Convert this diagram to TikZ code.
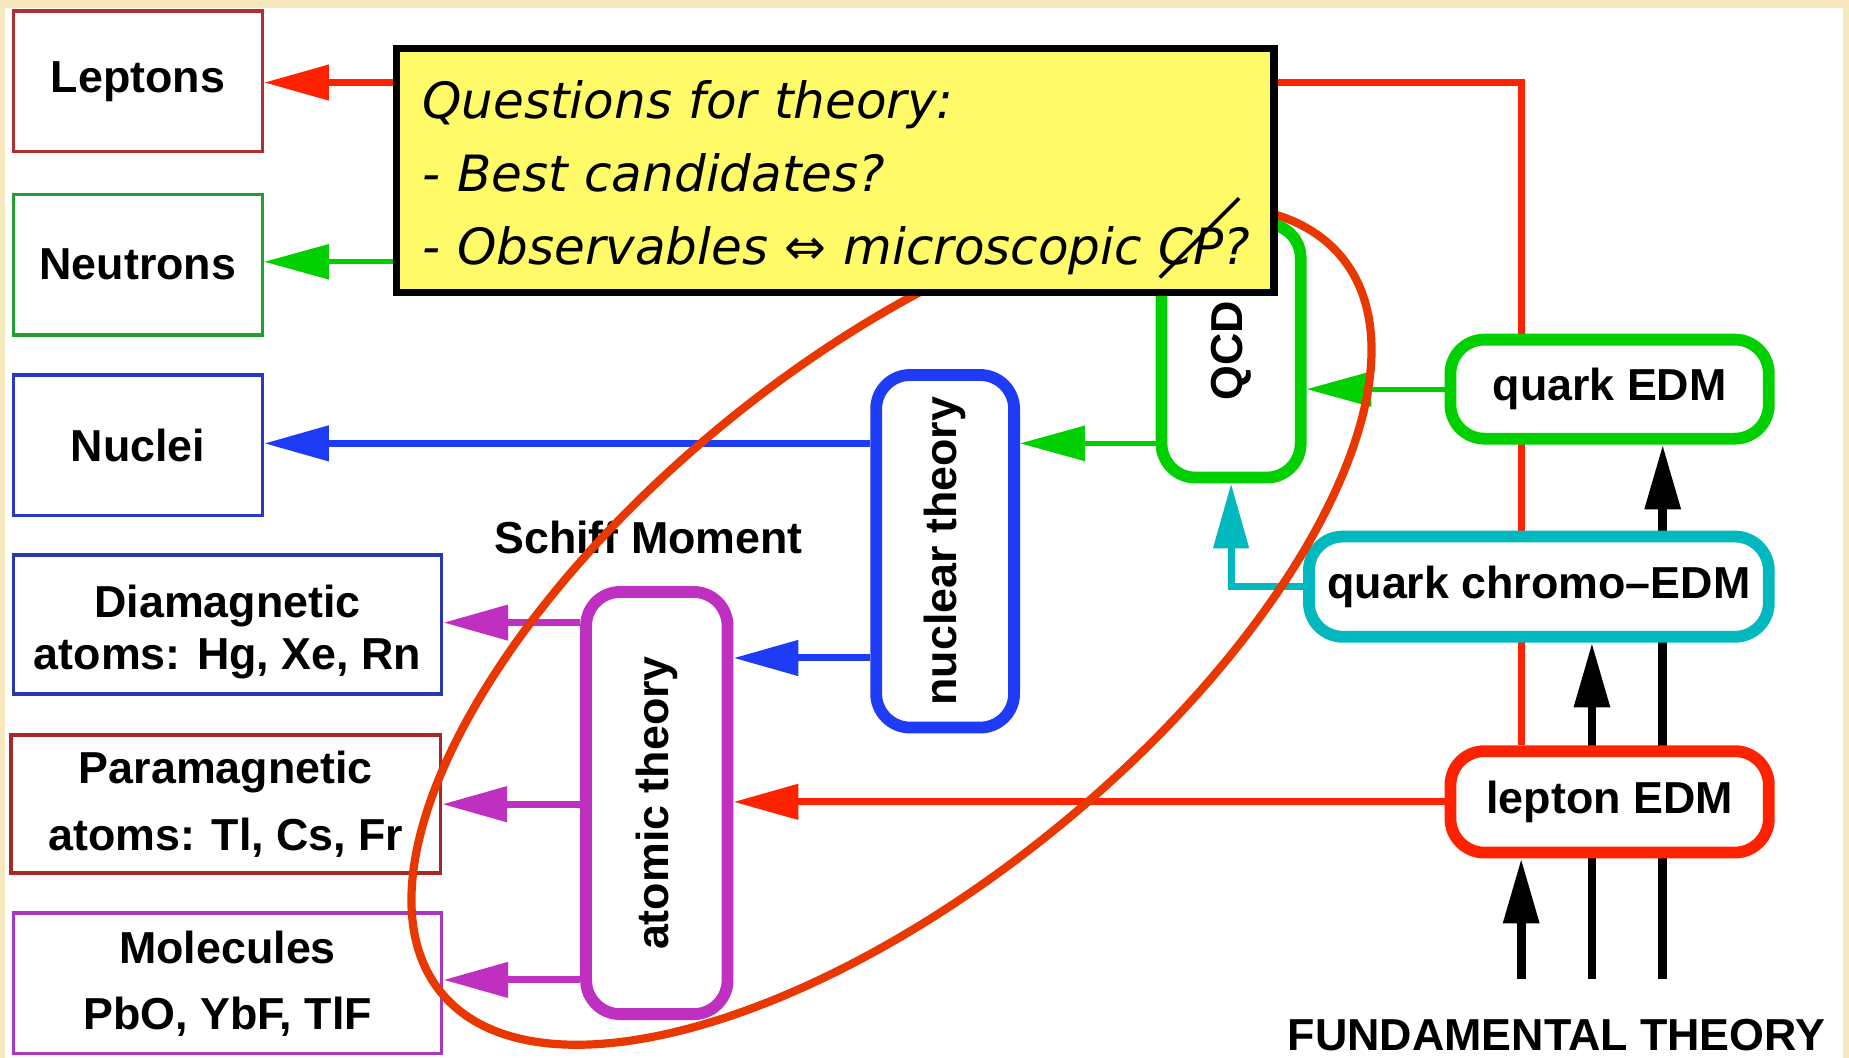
\documentclass[tikz,border=0pt]{standalone}
\usepackage{fontspec}
\setmainfont{Liberation Sans}
\newfontfamily\handfont{DejaVu Sans}
\usepackage{graphicx}
\usetikzlibrary{arrows.meta,backgrounds}
\newdimen\dpx \dpx=0.5896pt
\newcommand\labfont{\fontsize{22.4pt}{26pt}\selectfont\bfseries}
\newcommand\notefont{\handfont\itshape\fontsize{25pt}{36.6pt}\selectfont}
\definecolor{lepred}{HTML}{B03030}
\definecolor{neugreen}{HTML}{20A030}
\definecolor{nucblue}{HTML}{2838C8}
\definecolor{diablue}{HTML}{2838B0}
\definecolor{parared}{HTML}{A82828}
\definecolor{molpurple}{HTML}{A838C0}
\definecolor{linered}{HTML}{FF2200}
\definecolor{linegreen}{HTML}{00D000}
\definecolor{lineblue}{HTML}{1E3CF5}
\definecolor{linecyan}{HTML}{00B8BE}
\definecolor{linepurple}{HTML}{C030C0}
\definecolor{ellred}{HTML}{E83800}
\definecolor{noteyellow}{HTML}{FFFA68}
\definecolor{beigeband}{HTML}{F6E8BC}
\begin{document}
\begin{tikzpicture}[x=0.5896pt, y=0.5896pt,
  obsbox/.style={draw, line width=1.8pt, fill=white, inner sep=0pt, align=center, font=\labfont, minimum width=211*\dpx, minimum height=119*\dpx},
  rbox/.style={draw, line width=5.9pt, rounded corners=17pt, fill=white, inner sep=0pt, align=center, font=\labfont},
  tip/.style={-{Triangle[length=32.4pt,width=17.1pt]}},
  conn/.style={tip, line width=3.5pt},
  thinconn/.style={tip, line width=2.5pt},
  blackconn/.style={tip, line width=4.4pt, draw=black},
  lbl/.style={font=\labfont, inner sep=0pt},
  notebox/.style={draw=black, line width=3.8pt, fill=noteyellow, inner sep=0pt, minimum width=744*\dpx, minimum height=207*\dpx, text width=700*\dpx, align=left, font=\notefont},
  ellstyle/.style={draw=ellred, line width=4.1pt}
]
\useasboundingbox (0,0) rectangle (1568,-897);
% observable boxes
\node[obsbox, draw=lepred] (leptons) at (117,-69) {Leptons};
\node[obsbox, draw=neugreen] (neutrons) at (117,-224.5) {Neutrons};
\node[obsbox, draw=nucblue] (nuclei) at (117,-377.5) {Nuclei};
\node[obsbox, draw=diablue, minimum width=363*\dpx, minimum height=118*\dpx] (dia) at (193,-529.5) {\rule{0pt}{24pt}Diamagnetic\\atoms: Hg, Xe, Rn};
\node[obsbox, draw=parared, minimum width=364*\dpx, minimum height=117*\dpx] (para) at (191.5,-682) {Paramagnetic\\[7.6pt]atoms: Tl, Cs, Fr};
\node[obsbox, draw=molpurple, minimum width=363*\dpx, minimum height=119*\dpx] (mol) at (193,-834) {Molecules\\[7pt]PbO, YbF, TlF};
% theory boxes
\node[rbox, draw=linegreen, minimum width=118*\dpx, minimum height=215*\dpx] (qcd) at (1044,-297.5) {\rotatebox{90}{QCD}};
\node[rbox, draw=linegreen, minimum width=270*\dpx, minimum height=84*\dpx] (qedm) at (1365,-330) {quark EDM};
\node[rbox, draw=linecyan, minimum width=390*\dpx, minimum height=85*\dpx] (chromo) at (1305,-497.5) {quark chromo--EDM};
\node[rbox, draw=linered, minimum width=270*\dpx, minimum height=86*\dpx] (lepedm) at (1365,-680) {lepton EDM};
\node[rbox, draw=lineblue, minimum width=117*\dpx, minimum height=299*\dpx] (nuclear) at (801.5,-467.5) {\rotatebox{90}{nuclear theory}};
\node[rbox, draw=linepurple, minimum width=120*\dpx, minimum height=358*\dpx] (atomic) at (557,-681) {\rotatebox{90}{atomic theory}};
% labels
\node[lbl] (schiff) at (550,-456) {Schiff Moment};
\node[lbl] (fund) at (1320,-878) {FUNDAMENTAL THEORY};
\coordinate (f1) at (1290,-830);
\coordinate (f2) at (1350,-830);
\coordinate (f3) at (1410,-830);
\begin{pgfonlayer}{background}
  \fill[white] (0,0) rectangle (1568,-897);
  \fill[beigeband] (0,0) rectangle (1568,-7);
  \fill[beigeband] (0,0) rectangle (4,-897);
  \fill[beigeband] (1563,0) rectangle (1568,-897);
  \draw[conn, draw=linered] (lepedm.north -| f1) |- (leptons.east |- 0,-70);
  \draw[thinconn, draw=linegreen] (qcd.west |- 0,-222) -- (neutrons.east |- 0,-222);
  \draw[conn, draw=lineblue] (nuclear.west |- 0,-376) -- (nuclei.east |- 0,-376);
  \draw[thinconn, draw=linegreen] (qcd.west |- 0,-376) -- (nuclear.east |- 0,-376);
  \draw[thinconn, draw=linegreen] (qedm.west) -- (qcd.east |- qedm.west);
  \draw[conn, draw=linecyan] (chromo.west) -| (qcd.south);
  \draw[conn, draw=lineblue] (nuclear.west |- 0,-558) -- (atomic.east |- 0,-558);
  \draw[conn, draw=linered] (lepedm.west) -- (atomic.east |- lepedm.west);
  \draw[conn, draw=linepurple] (atomic.west |- 0,-528) -- (dia.east |- 0,-528);
  \draw[conn, draw=linepurple] (atomic.west |- para.east) -- (para.east);
  \draw[conn, draw=linepurple] (atomic.west |- 0,-831) -- (mol.east |- 0,-831);
  \draw[blackconn] (f1) -- (lepedm.south -| f1);
  \draw[blackconn] (f2) -- (chromo.south -| f2);
  \draw[blackconn] (f3) -- (qedm.south -| f3);
\end{pgfonlayer}
% ellipse
\draw[ellstyle, rotate around={39.2:(756,-530)}] (756,-530) ellipse [x radius=493, y radius=222];
% note box
\node[notebox, anchor=north west] (note) at (333,-38) {\rule{0pt}{27.9pt}Questions for theory:\\- Best candidates?\\\mbox{- Observables ⇔ microscopic \rlap{\raisebox{-0.28em}{\rotatebox{45}{\rule{2.24em}{0.07em}}}}CP?}};
\end{tikzpicture}
\end{document}
